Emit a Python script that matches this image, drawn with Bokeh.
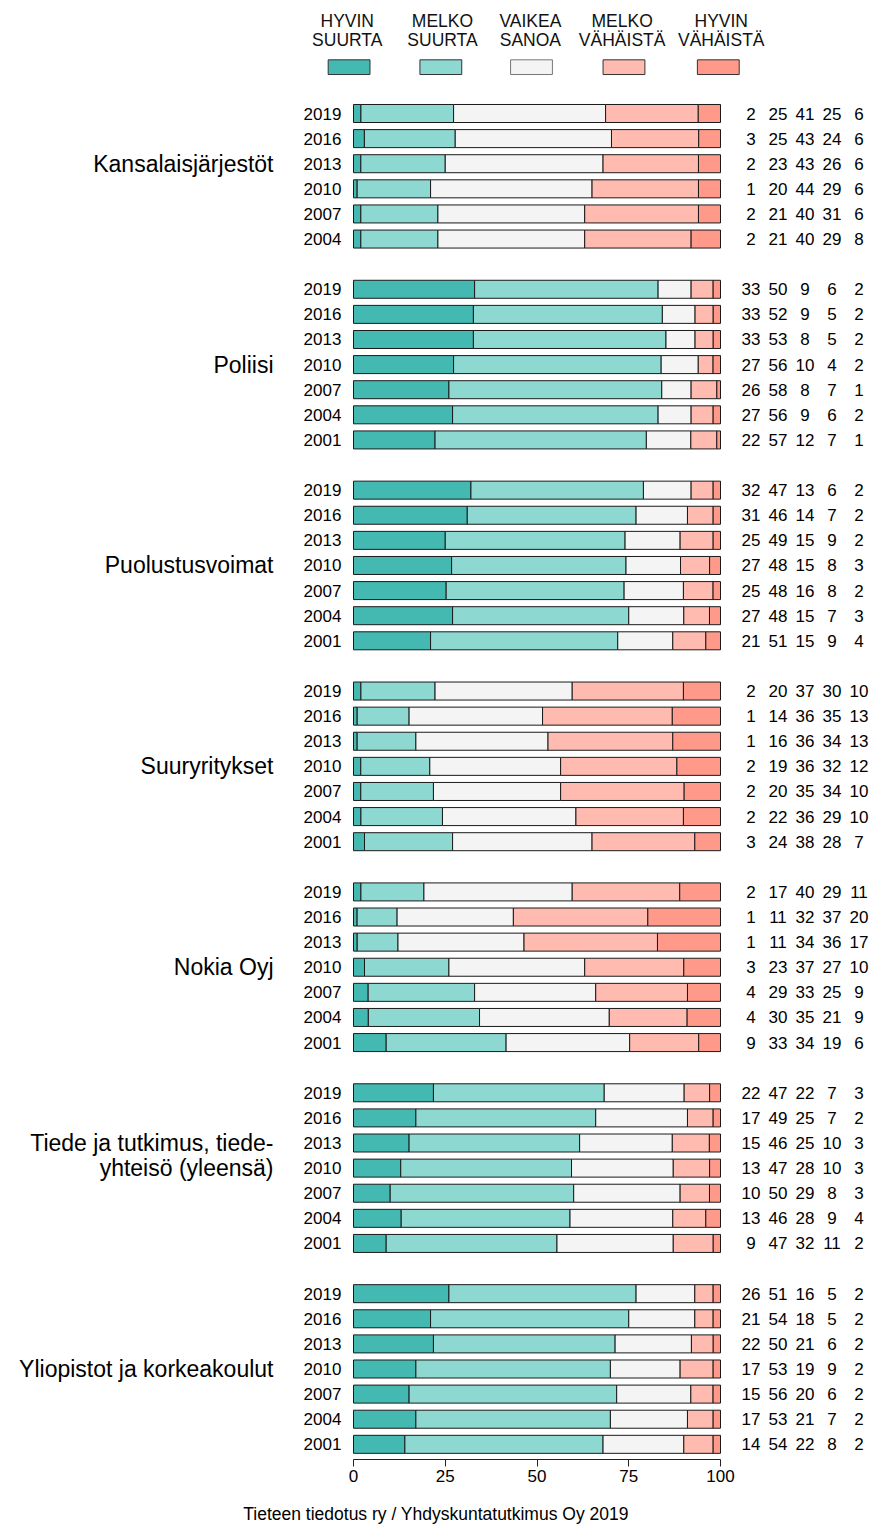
import numpy as np
from bokeh.plotting import figure
from bokeh.models import Range1d, FixedTicker, Title, ColumnDataSource
from bokeh.core.properties import value
from bokeh.embed import file_html
from bokeh.resources import INLINE

# ---------------- data ----------------
categories = ["HYVIN\nSUURTA", "MELKO\nSUURTA", "VAIKEA\nSANOA", "MELKO\nVÄHÄISTÄ", "HYVIN\nVÄHÄISTÄ"]
colors = ["#44B9B2", "#8ED8D2", "#F4F4F4", "#FFBBB0", "#FF9A8B"]

groups = ["Kansalaisjärjestöt", "Poliisi", "Puolustusvoimat", "Suuryritykset",
          "Nokia Oyj", "Tiede ja tutkimus, tiede-\nyhteisö (yleensä)",
          "Yliopistot ja korkeakoulut"]

years_all = [2019, 2016, 2013, 2010, 2007, 2004, 2001]
years_kans = [2019, 2016, 2013, 2010, 2007, 2004]

kansalaisjarjestot = [[2, 25, 41, 25, 6], [3, 25, 43, 24, 6], [2, 23, 43, 26, 6],
                      [1, 20, 44, 29, 6], [2, 21, 40, 31, 6], [2, 21, 40, 29, 8]]
poliisi = [[33, 50, 9, 6, 2], [33, 52, 9, 5, 2], [33, 53, 8, 5, 2], [27, 56, 10, 4, 2],
           [26, 58, 8, 7, 1], [27, 56, 9, 6, 2], [22, 57, 12, 7, 1]]
puolustusvoimat = [[32, 47, 13, 6, 2], [31, 46, 14, 7, 2], [25, 49, 15, 9, 2], [27, 48, 15, 8, 3],
                   [25, 48, 16, 8, 2], [27, 48, 15, 7, 3], [21, 51, 15, 9, 4]]
suuryritykset = [[2, 20, 37, 30, 10], [1, 14, 36, 35, 13], [1, 16, 36, 34, 13], [2, 19, 36, 32, 12],
                 [2, 20, 35, 34, 10], [2, 22, 36, 29, 10], [3, 24, 38, 28, 7]]
nokia = [[2, 17, 40, 29, 11], [1, 11, 32, 37, 20], [1, 11, 34, 36, 17], [3, 23, 37, 27, 10],
         [4, 29, 33, 25, 9], [4, 30, 35, 21, 9], [9, 33, 34, 19, 6]]
tiede = [[22, 47, 22, 7, 3], [17, 49, 25, 7, 2], [15, 46, 25, 10, 3], [13, 47, 28, 10, 3],
         [10, 50, 29, 8, 3], [13, 46, 28, 9, 4], [9, 47, 32, 11, 2]]
yliopistot = [[26, 51, 16, 5, 2], [21, 54, 18, 5, 2], [22, 50, 21, 6, 2], [17, 53, 19, 9, 2],
              [15, 56, 20, 6, 2], [17, 53, 21, 7, 2], [14, 54, 22, 8, 2]]

group_values = [kansalaisjarjestot, poliisi, puolustusvoimat, suuryritykset, nokia, tiede, yliopistot]
group_years = [years_kans] + [years_all] * 6

footer = "Tieteen tiedotus ry / Yhdyskuntatutkimus Oy 2019"

# ---------------- layout helpers ----------------
FONT = "Liberation Sans"
rows_y, rows_year, rows_vals = [], [], []
label_y, label_txt = [], []
r = 0
for g, vals, yrs in zip(groups, group_values, group_years):
    start = r
    for yv, v in zip(yrs, vals):
        rows_y.append(r)
        rows_year.append(str(yv))
        rows_vals.append(v)
        r += 1
    center = int(np.floor(start + (len(yrs) - 1) / 2))
    lines = g.split("\n")
    for i, ln in enumerate(lines):
        label_y.append(center + i - (len(lines) - 1))
        label_txt.append(ln)
    r += 1  # gap row

vals = np.array(rows_vals, dtype=float)
norm = vals / vals.sum(axis=1, keepdims=True) * 100
cum = np.cumsum(norm, axis=1)
lefts = np.hstack([np.zeros((len(vals), 1)), cum[:, :-1]])

data = dict(y=rows_y, year=rows_year)
for k in range(5):
    data[f"l{k}"] = lefts[:, k]
    data[f"r{k}"] = cum[:, k]
src = ColumnDataSource(data)

PX = 3.67      # pixels per percent
X0 = -353 / PX
X1 = (871 - 353) / PX
RS = 25.11     # pixels per row
Y_TOP = -113 / RS
Y_BOT = (1459 - 113) / RS

p = figure(frame_width=871, frame_height=1459,
           x_range=Range1d(X0, X1), y_range=Range1d(Y_BOT, Y_TOP),
           output_backend="svg", toolbar_location=None, y_axis_location=None,
           min_border_left=0, min_border_right=0, min_border_top=0, min_border_bottom=0)
p.xgrid.visible = False
p.ygrid.visible = False
p.outline_line_color = None

ax = p.xaxis[0]
ax.ticker = FixedTicker(ticks=[0, 25, 50, 75, 100])
ax.bounds = (0, 100)
ax.major_tick_out = 7
ax.major_tick_in = 0
ax.minor_tick_out = 0
ax.minor_tick_in = 0
ax.axis_line_color = "#222222"
ax.major_tick_line_color = "#222222"
ax.major_label_text_font = FONT
ax.major_label_text_font_size = "17px"
ax.major_label_text_color = "black"
ax.major_label_standoff = 3

# bars
for k in range(5):
    p.hbar(y="y", left=f"l{k}", right=f"r{k}", height=0.717, source=src,
           fill_color=colors[k], line_color="#1a1a1a", line_width=1)

# year labels
p.text(x=-3.3, y="y", text="year", source=src, text_align="right", text_baseline="middle",
       text_font=value(FONT), text_font_size="17px", text_color="black")

# value columns
col_x = [108.3 + 7.36 * k for k in range(5)]
for k in range(5):
    p.text(x=[col_x[k]] * len(rows_y), y=rows_y, text=[str(v[k]) for v in rows_vals],
           text_align="center", text_baseline="middle",
           text_font=value(FONT), text_font_size="17px", text_color="black")

# group labels
p.text(x=[-21.8] * len(label_y), y=label_y, text=label_txt, text_align="right",
       text_baseline="middle", text_font=value(FONT), text_font_size="23px", text_color="black")

# legend
leg_box_x = [-1.2, 23.8, 48.5, 73.7, 99.4]
leg_txt_x = [-1.7, 24.25, 48.2, 73.2, 100.2]
p.rect(x=leg_box_x, y=[-1.845] * 5, width=11.4, height=0.585, fill_color=colors,
       line_color=["#333333", "#333333", "#777777", "#333333", "#333333"], line_width=1)
l1 = [c.split("\n")[0] for c in categories]
l2 = [c.split("\n")[1] for c in categories]
for yy, tt in ((-3.67, l1), (-2.91, l2)):
    p.text(x=leg_txt_x, y=[yy] * 5, text=tt, text_align="center", text_baseline="middle",
           text_font=value(FONT), text_font_size="17.5px", text_color="#111111")

p.add_layout(Title(text=footer, align="center", text_font=FONT, text_font_size="17.5px",
                   text_font_style="normal", text_color="black", standoff=34, offset=-8), "below")

open("out.html", "w").write(file_html(p, INLINE))
